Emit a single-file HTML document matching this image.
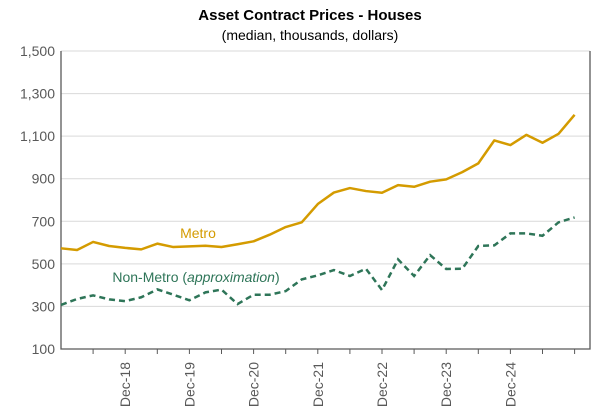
<!DOCTYPE html>
<html><head><meta charset="utf-8"><style>
body{margin:0;background:#fff;}
svg{display:block;font-family:"Liberation Sans",Arial,sans-serif;}
</style></head><body>
<svg id="chart" width="608" height="418">
<text x="310" y="20" text-anchor="middle" font-size="15" font-weight="bold" fill="#000">Asset Contract Prices - Houses</text>
<text x="310" y="40" text-anchor="middle" font-size="14" fill="#000">(median, thousands, dollars)</text>
<g id="grid"></g><g id="axes"></g><g id="series"></g>
<text x="198" y="238" text-anchor="middle" font-size="14" fill="#d49b00">Metro</text>
<text x="196" y="282" text-anchor="middle" font-size="14" fill="#2e7558">Non-Metro (<tspan font-style="italic">approximation</tspan>)</text>
</svg>
<script>
const yTicks=[100,300,500,700,900,1100,1300,1500];
const yTickLabels=["100","300","500","700","900","1,100","1,300","1,500"];
const xLabels=["Dec-18","Dec-19","Dec-20","Dec-21","Dec-22","Dec-23","Dec-24"];
const xLabelIdx=[4,8,12,16,20,24,28];
const metro=[573,565,603,584,575,568,595,579,582,585,579,592,606,637,673,695,781,835,856,842,834,870,862,886,897,931,972,1080,1058,1106,1069,1111,1200];
const nonMetro=[307,335,352,333,325,343,380,355,329,366,379,311,355,355,372,427,446,471,443,477,377,521,443,541,476,477,584,587,643,643,632,695,718];
const NS="http://www.w3.org/2000/svg";
const X0=61,STEP=16.05,L=61,R=590,B=349;
const x=i=>X0+i*STEP;
const y=v=>349-(v-100)*(298/1400);
function mk(t,a,p){const e=document.createElementNS(NS,t);for(const k in a)e.setAttribute(k,a[k]);p.appendChild(e);return e;}
const grid=document.getElementById('grid'),axes=document.getElementById('axes'),ser=document.getElementById('series');
yTicks.forEach((v,i)=>{
 if(v>100){const g=mk('line',{x1:L,x2:R,y1:y(v),y2:y(v),stroke:'#d9d9d9','stroke-width':1},grid);
 
 }
 const t=mk('text',{x:55,y:y(v)+5,'text-anchor':'end','font-size':14,fill:'#595959'},axes);t.textContent=yTickLabels[i];
 
 
});
const ax=mk('path',{d:`M${L},51V${B}H${R}V51`,fill:'none',stroke:'#595959','stroke-width':1.3},axes);


for(let i=2;i<metro.length;i+=2){const tk=mk('line',{x1:x(i),x2:x(i),y1:B,y2:B+5,stroke:'#595959'},axes);
 
 }
xLabels.forEach((s,k)=>{const xx=x(xLabelIdx[k]);
 const t=mk('text',{x:0,y:0,transform:`translate(${xx+5},362) rotate(-90)`,'text-anchor':'end','font-size':14,fill:'#595959'},axes);t.textContent=s;
 
 });
const pm=mk('polyline',{points:metro.map((v,i)=>x(i)+','+y(v)).join(' '),fill:'none',stroke:'#d49b00','stroke-width':2.5,'stroke-linejoin':'round'},ser);


const pn=mk('polyline',{points:nonMetro.map((v,i)=>x(i)+','+y(v)).join(' '),fill:'none',stroke:'#2e7558','stroke-width':2.5,'stroke-dasharray':'6,4'},ser);


</script>
</body></html>
